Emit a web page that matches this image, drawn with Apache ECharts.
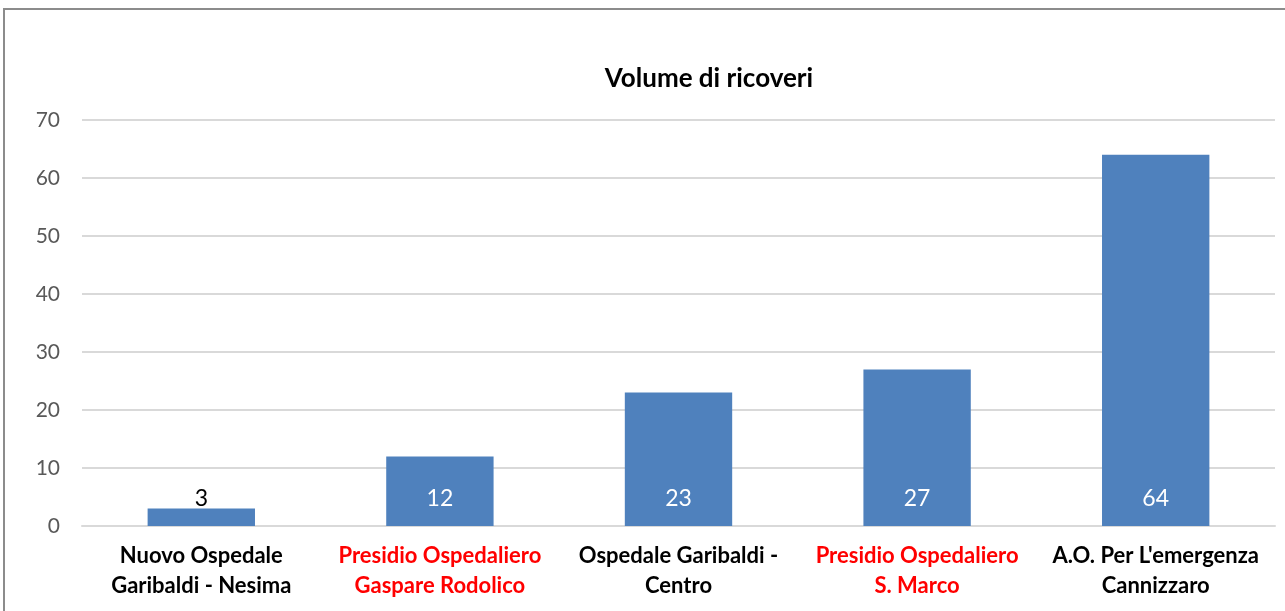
<!DOCTYPE html>
<html>
<head>
<meta charset="utf-8">
<script src="https://cdn.jsdelivr.net/npm/echarts@6/dist/echarts.min.js"></script>
<style>
  html, body { margin: 0; padding: 0; background: #fff; }
  #main { width: 1285px; height: 611px; }
</style>
</head>
<body>
<div id="main"></div>
<script>
// dati del grafico
let categories = ['Nuovo Ospedale\nGaribaldi - Nesima', 'Presidio Ospedaliero\nGaspare Rodolico',
    'Ospedale Garibaldi -\nCentro', 'Presidio Ospedaliero\nS. Marco', 'A.O. Per L\'emergenza\nCannizzaro'];
let catColors = ['#000000', '#ff0000', '#000000', '#ff0000', '#000000'];
let values = [3, 12, 23, 27, 64];
let yTicks = [0, 10, 20, 30, 40, 50, 60, 70];

let myChart = echarts.init(document.getElementById('main'));
let font = 'Lato, "Liberation Sans", sans-serif';

let option = {
    backgroundColor: '#ffffff',
    animation: false,
    title: {
        text: 'Volume di ricoveri',
        left: 704,
        top: 61,
        textAlign: 'center',
        textStyle: {fontFamily: font, fontSize: 26, fontWeight: 'bold', color: '#000'}
    },
    grid: {left: 82, right: 10, top: 120, bottom: 85, containLabel: false},
    graphic: [{
        type: 'rect',
        shape: {x: 4, y: 9, width: 1400, height: 700},
        style: {fill: 'none', stroke: '#8c8c8c', lineWidth: 2}
    }],
    xAxis: {
        type: 'category',
        data: categories.map(function (c, i) {
            return {value: c, textStyle: {color: catColors[i]}};
        }),
        axisTick: {show: false},
        axisLine: {lineStyle: {color: '#d9d9d9', width: 2}},
        axisLabel: {
            fontFamily: font, fontSize: 22, fontWeight: 'bold',
            lineHeight: 30, margin: 15, interval: 0
        }
    },
    yAxis: {
        type: 'value',
        min: 0,
        max: yTicks[yTicks.length - 1],
        interval: 10,
        axisLine: {show: false},
        axisTick: {show: false},
        splitLine: {lineStyle: {color: '#d9d9d9', width: 2}},
        axisLabel: {fontFamily: font, fontSize: 21, color: '#595959', margin: 22}
    },
    series: [{
        type: 'bar',
        barWidth: '45%',
        data: values.map(function (v, i) {
            return {
                value: v,
                label: {color: i === 0 ? '#000000' : '#ffffff'}
            };
        }),
        itemStyle: {color: '#4f81bd'},
        label: {
            show: true,
            position: 'insideBottom',
            distance: 16,
            fontFamily: font,
            fontSize: 23
        }
    }]
};
myChart.setOption(option);
</script>
</body>
</html>
